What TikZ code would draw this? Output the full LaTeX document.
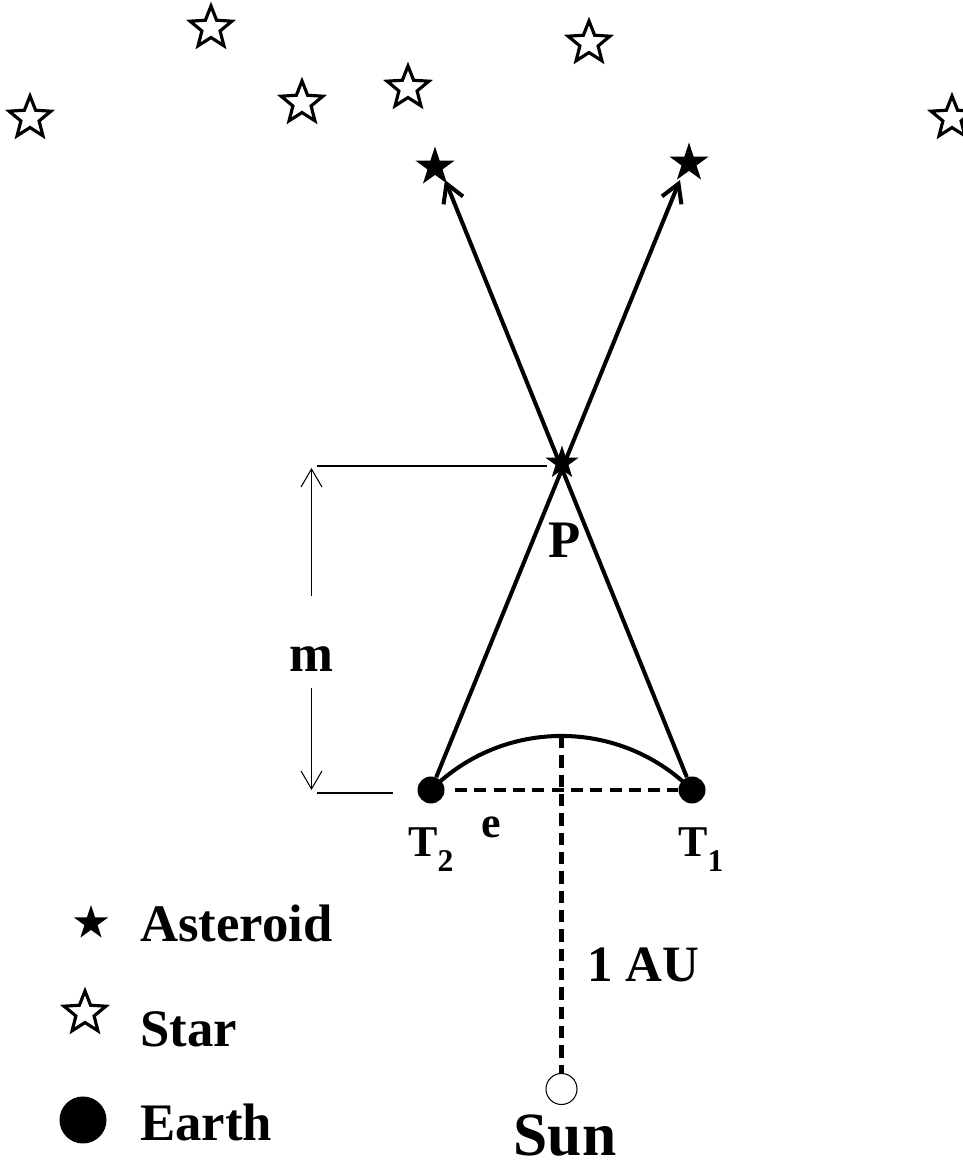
\documentclass[tikz,border=0pt]{standalone}
\usepackage{fontspec}
\setmainfont{Liberation Serif}
\usetikzlibrary{arrows.meta,calc,shapes.geometric}

\begin{document}
\begin{tikzpicture}[>={Straight Barb[length=3.6mm,width=4.2mm]},
  font=\bfseries\fontsize{30}{30}\selectfont,
  sky/.style={star, star points=5, star point ratio=2.3, draw, line width=1.8pt,
    inner sep=0pt, minimum size=8.8mm},
  rock/.style={star, star points=5, star point ratio=2.6, fill, inner sep=0pt},
  earth/.style={circle, fill, inner sep=0pt},
  ray/.style={line width=2.3pt},
  orbit/.style={line width=2.3pt, dash pattern=on 7pt off 4pt},
  dim/.style={line width=0.6pt},
  lbl/.style={inner sep=0pt}]
  \useasboundingbox (0,0) rectangle (19.26,23.32);

  \node[sky] (S1) at (0.60,20.96) {};
  \node[sky] (S2) at (4.22,22.76) {};
  \node[sky] (S3) at (6.04,21.26) {};
  \node[sky] (S4) at (8.16,21.56) {};
  \node[sky] (S5) at (11.78,22.46) {};
  \node[sky] (S6) at (19.04,20.96) {};

  \node[rock, minimum size=8.2mm] (A1) at (8.70,19.98) {};
  \node[rock, minimum size=8.2mm] (A2) at (13.78,20.06) {};

  \node[earth, minimum size=5.4mm] (T2) at (8.62,7.52) {};
  \node[earth, minimum size=5.4mm] (T1) at (13.84,7.52) {};
  \coordinate (tipL) at (8.90,19.72);
  \coordinate (tipR) at (13.60,19.72);

  \draw[ray, ->] (T1) -- (tipL);
  \draw[ray, ->] (T2) -- (tipR);
  \node[rock, minimum size=7.0mm] (P) at (11.24,14.06) {};
  \node[lbl, anchor=base] (Plbl) at (11.30,12.16) {P};

  \draw[ray] (T2.center) arc[start angle=135, end angle=45, radius=3.69];
  \coordinate (top) at (11.23,8.60);
  \node[circle, draw, line width=0.6pt, minimum size=6.2mm, inner sep=0pt] (Sun) at (11.23,1.54) {};
  \draw[orbit, shorten <=0.2cm] (T2) -- (T1);
  \draw[orbit] (top) -- (Sun);

  \node[lbl, anchor=base west, font=\bfseries\fontsize{25}{25}\selectfont] (T2lbl) at (8.16,6.18)
    {T\raisebox{-8.5pt}{\fontsize{18}{18}\selectfont 2}};
  \node[lbl, anchor=base west, font=\bfseries\fontsize{25}{25}\selectfont] (T1lbl) at (13.56,6.18)
    {T\raisebox{-8.5pt}{\fontsize{18}{18}\selectfont 1}};
  \node[lbl, anchor=base, font=\bfseries\fontsize{25}{25}\selectfont] (elbl) at (9.82,6.56) {e};
  \node[lbl, anchor=base west, font=\bfseries\fontsize{29}{29}\selectfont] (AUlbl) at (11.74,3.68) {1 AU};
  \node[lbl, anchor=base, font=\bfseries\fontsize{35}{35}\selectfont] (SunLbl) at (11.30,0.22) {Sun};

  \coordinate (mTop) at (6.23,13.96);
  \coordinate (mBot) at (6.23,7.52);
  \node[lbl, anchor=base] (m) at (6.23,9.88) {m};
  \draw[dim, ->, shorten <=1.02cm] (m.north) -- (mTop);
  \draw[dim, ->, shorten <=0.32cm] (m.south) -- (mBot);
  \draw[dim] (6.34,14.00) -- (10.94,14.00);
  \draw[dim] (6.34,7.46) -- (7.86,7.46);

  \node[rock, minimum size=7.2mm] (kA) at (1.82,4.86) {};
  \node[lbl, anchor=base west] (kAlbl) at (2.80,4.48) {Asteroid};
  \node[sky] (kS) at (1.70,3.06) {};
  \node[lbl, anchor=base west] (kSlbl) at (2.80,2.38) {Star};
  \node[earth, minimum size=9.4mm] (kE) at (1.66,0.92) {};
  \node[lbl, anchor=base west] (kElbl) at (2.80,0.52) {Earth};
\end{tikzpicture}
\end{document}
